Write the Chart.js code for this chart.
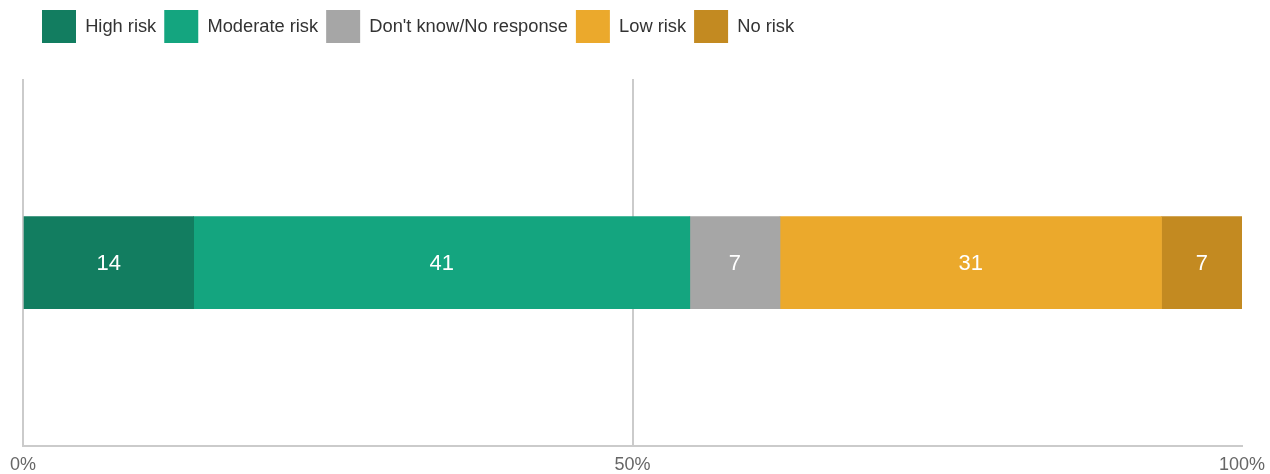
<!DOCTYPE html>
<html>
<head>
<meta charset="utf-8">
<script src="https://cdn.jsdelivr.net/npm/chart.js@4/dist/chart.umd.min.js"></script>
<style>
  html, body { margin: 0; padding: 0; background: #fff; }
</style>
</head>
<body>
<canvas id="myChart" width="1270" height="474"></canvas>
<script>
const categories = ['High risk', 'Moderate risk', "Don't know/No response", 'Low risk', 'No risk'];
const shares = [14.0, 40.7, 7.4, 31.3, 6.6];
const colors = ['#127d60', '#14a57f', '#a6a6a6', '#eba92c', '#c38a21'];
const rowLabels = [''];
const tickValues = [0, 50, 100];

const FONT = '"Liberation Sans", Arial, sans-serif';
const lineColor = '#cbcbcb';

// extra room under the legend, and push legend items right
const legendSpacer = {
    id: 'legendSpacer',
    beforeLayout(chart) {
        const lg = chart.legend;
        if (lg && !lg._spaced) {
            const fit = lg.fit.bind(lg);
            lg.fit = function () { fit(); this.height += 26; };
            lg._spaced = true;
        }
    },
    afterLayout(chart) {
        chart.legend.left += 11;
        chart.legend.right += 11;
    }
};

// white numbers in the middle of each segment
const barValues = {
    id: 'barValues',
    afterDatasetsDraw(chart) {
        const ctx = chart.ctx;
        ctx.save();
        ctx.font = '22px ' + FONT;
        ctx.fillStyle = '#ffffff';
        ctx.textAlign = 'center';
        ctx.textBaseline = 'middle';
        chart.data.datasets.forEach((ds, i) => {
            chart.getDatasetMeta(i).data.forEach((bar, j) => {
                ctx.fillText(Math.round(ds.data[j]), (bar.x + bar.base) / 2, bar.y + 1);
            });
        });
        ctx.restore();
    }
};

const myChart = new Chart('myChart', {
    type: 'bar',
    data: {
        labels: rowLabels,
        datasets: categories.map((name, i) => ({
            label: name,
            data: [shares[i]],
            backgroundColor: colors[i],
            borderWidth: 0,
            barThickness: 92
        }))
    },
    options: {
        indexAxis: 'y',
        responsive: false,
        animation: false,
        layout: { padding: { top: 2, left: 23, right: 28, bottom: -10 } },
        scales: {
            x: {
                stacked: true,
                min: 0,
                max: 100,
                afterBuildTicks: (axis) => { axis.ticks = tickValues.map(v => ({ value: v })); },
                afterFit: (axis) => { axis.paddingLeft = 0; axis.paddingRight = 0; },
                ticks: {
                    callback: (v) => v + '%',
                    color: '#666666',
                    font: { family: FONT, size: 18 },
                    padding: 8,
                    maxRotation: 0
                },
                grid: {
                    color: (c) => c.tick && c.tick.value === 100 ? 'rgba(0,0,0,0)' : lineColor,
                    lineWidth: 2,
                    drawTicks: false
                },
                border: { display: true, color: lineColor, width: 2 }
            },
            y: {
                stacked: true,
                display: false
            }
        },
        plugins: {
            legend: {
                position: 'top',
                align: 'start',
                labels: {
                    boxWidth: 34,
                    boxHeight: 33,
                    padding: 8,
                    color: '#333333',
                    font: { family: FONT, size: 18.3 }
                }
            },
            tooltip: { enabled: false }
        }
    },
    plugins: [legendSpacer, barValues]
});
</script>
</body>
</html>
